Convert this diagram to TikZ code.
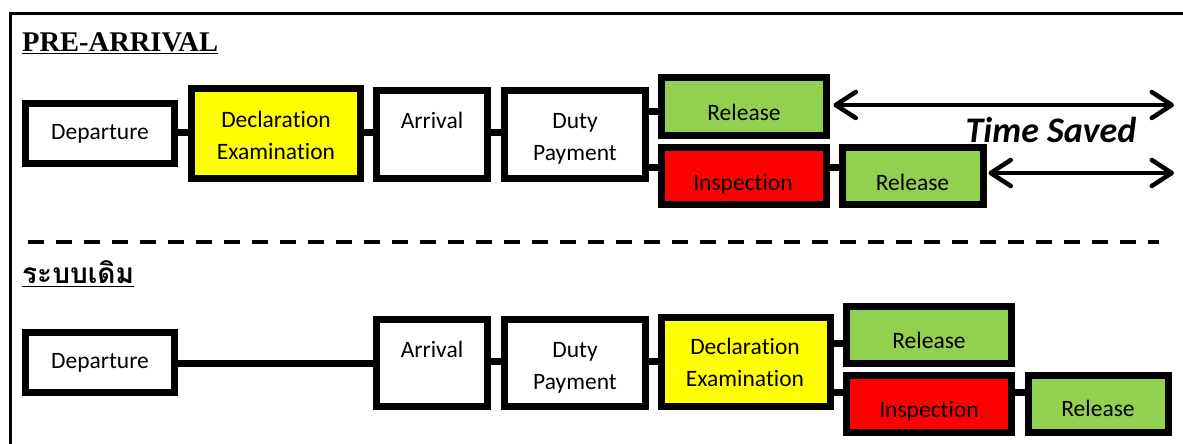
\documentclass[tikz,border=0pt]{standalone}
\usepackage{fontspec}
\setmainfont{Carlito}[Ligatures=NoCommon]
\newfontfamily\serifbold{Liberation Serif}
\newfontfamily\thaifont[Script=Thai]{Loma}
\usetikzlibrary{arrows.meta}
\definecolor{declyellow}{HTML}{FFFF00}
\definecolor{relgreen}{HTML}{92D050}
\definecolor{insred}{HTML}{FF0000}

\begin{document}
\begin{tikzpicture}[x=1pt,y=-1pt,
  stepbox/.style={draw=black, line width=7pt, inner sep=0pt, outer sep=0pt},
  wh/.style 2 args={minimum width=#1pt, minimum height=#2pt},
  decl/.style={stepbox, fill=declyellow},
  rel/.style={stepbox, fill=relgreen},
  insp/.style={stepbox, fill=insred},
  plain/.style={stepbox, fill=white},
  lbl/.style={font=\fontsize{23.5}{32}\selectfont, anchor=base, inner sep=0pt, align=center},
  link/.style={line width=7pt},
  saved/.style={line width=4.5pt, line cap=round,
    {Straight Barb[length=20pt,width=26pt,round]}-{Straight Barb[length=20pt,width=26pt,round]}},
  heading/.style={anchor=base west, inner sep=0pt},
  uline/.style={line width=1.6pt}]

\useasboundingbox (0,0) rectangle (1183,444);

% frame
\draw[line width=3pt] (10.5,444) -- (10.5,14) -- (1183,14);

% ---------- pre-arrival flow ----------
\node[heading, font=\serifbold\bfseries\fontsize{28.5}{32}\selectfont] (pre) at (22,51.5) {PRE-ARRIVAL};
\draw[uline] ([yshift=-2pt]pre.base west) -- ([yshift=-2pt]pre.base east);

\node[plain, wh={149}{60}] (dep1) at (100,133.5) {};
\node[decl,  wh={169}{90}] (dec1) at (276,133.5) {};
\node[plain, wh={111}{88}] (arr1) at (432,134.5) {};
\node[plain, wh={141}{88}] (duty1) at (575,134.5) {};
\node[rel,   wh={165}{58}] (rel1) at (744,106.5) {};
\node[insp,  wh={165}{57}] (ins1) at (744,176) {};
\node[rel,   wh={141}{57}] (rel1b) at (913,176) {};

\draw[link] (dep1.east |- 0,132) -- (dec1.west |- 0,132);
\draw[link] (dec1.east |- 0,132) -- (arr1.west |- 0,132);
\draw[link] (arr1.east |- 0,132) -- (duty1.west |- 0,132);
\draw[link] ([yshift=-4.5pt]rel1.west -| duty1.east) -- ([yshift=-4.5pt]rel1.west);
\draw[link] ([yshift=9pt]ins1.west -| duty1.east) -- ([yshift=9pt]ins1.west);
\draw[link] ([yshift=9pt]ins1.east) -- ([yshift=9pt]rel1b.west);

\node[lbl] at (100,139) {Departure};
\node[lbl] at (276,159.3) {Declaration\\Examination};
\node[lbl] at (432,128.3) {Arrival};
\node[lbl] at (575,160.7) {Duty\\Payment};
\node[lbl] at (744,120) {Release};
\node[lbl] at (743,190.7) {Inspection};
\node[lbl] at (912.5,190) {Release};

% time saved
\coordinate (end1) at (1174,105);
\coordinate (end2) at (1174,173);
\draw[saved] ([xshift=7pt,yshift=1.5pt]rel1.east) -- ([yshift=1.5pt]rel1.east -| end1);
\draw[saved] ([xshift=5pt,yshift=3pt]rel1b.east) -- ([yshift=3pt]rel1b.east -| end2);
\node[font=\fontsize{36}{40}\selectfont\bfseries\itshape, anchor=base, inner sep=0pt] (ts) at (1051,142) {Time Saved};

% separator
\draw[line width=3.5pt, dash pattern=on 16pt off 12pt] (28,242) -- (1159,242);

% ---------- conventional flow ----------
\node[heading, font=\thaifont\bfseries\fontsize{28}{32}\selectfont] (old) at (22,283) {ระบบเดิม};
\draw[uline] ([yshift=-3.5pt]old.base west) -- ([yshift=-3.5pt]old.base east);

\node[plain, wh={149}{60}] (dep2) at (100,362.5) {};
\node[plain, wh={111}{87}] (arr2) at (432,363) {};
\node[plain, wh={141}{87}] (duty2) at (575,363) {};
\node[decl,  wh={169}{89}] (dec2) at (746,362) {};
\node[rel,   wh={165}{57}] (rel2) at (929,335) {};
\node[insp,  wh={165}{57}] (ins2) at (929,404) {};
\node[rel,   wh={140}{57}] (rel2b) at (1098.5,404) {};

\draw[link] (dep2.east |- 0,363) -- (arr2.west |- 0,363);
\draw[link] (arr2.east |- 0,361) -- (duty2.west |- 0,361);
\draw[link] (duty2.east |- 0,361) -- (dec2.west |- 0,361);
\draw[link] ([yshift=-8pt]rel2.west -| dec2.east) -- ([yshift=-8pt]rel2.west);
\draw[link] ([yshift=12pt]ins2.west -| dec2.east) -- ([yshift=12pt]ins2.west);
\draw[link] ([yshift=12pt]ins2.east) -- ([yshift=12pt]rel2b.west);

\node[lbl] at (100,368) {Departure};
\node[lbl] at (432,357.3) {Arrival};
\node[lbl] at (575,389) {Duty\\Payment};
\node[lbl] at (745,386.7) {Declaration\\Examination};
\node[lbl] at (929,348.3) {Release};
\node[lbl] at (929,417.3) {Inspection};
\node[lbl] at (1098,416.7) {Release};
\end{tikzpicture}
\end{document}
